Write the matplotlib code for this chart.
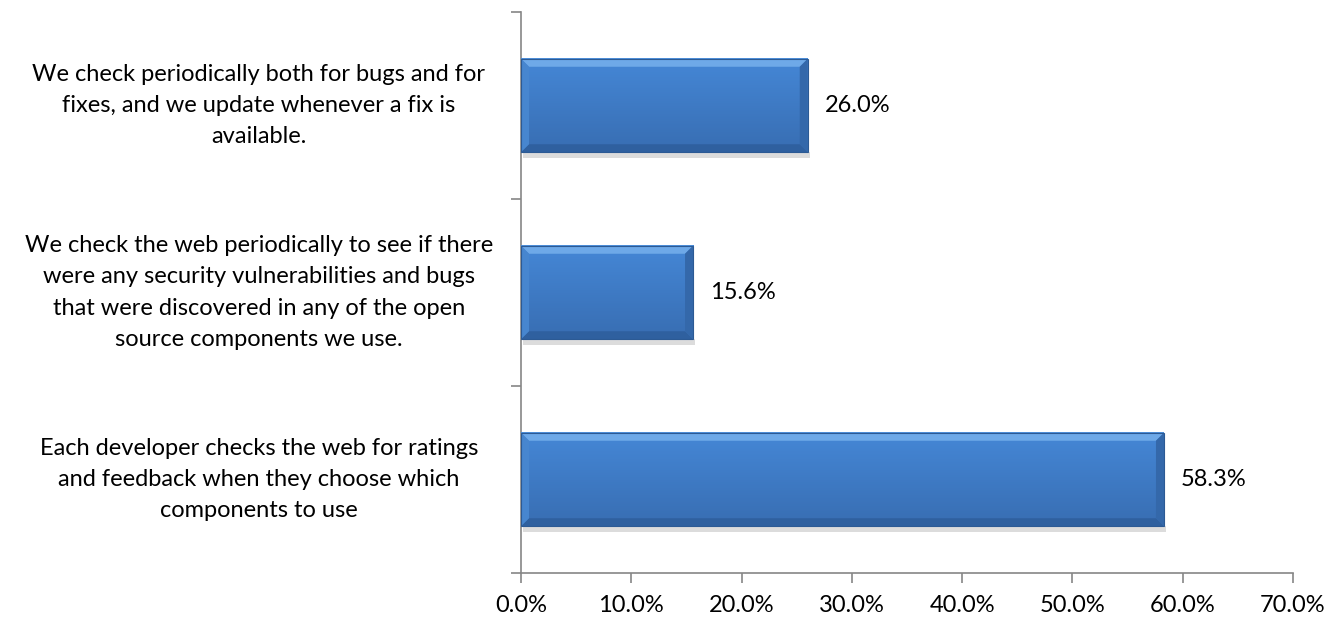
import numpy as np
import matplotlib
matplotlib.use("Agg")
import matplotlib.pyplot as plt
from matplotlib.patches import Polygon, Rectangle

## 데이터 (아래에서 위 순서)
categories = [
    "Each developer checks the web for ratings\nand feedback when they choose which\ncomponents to use",
    "We check the web periodically to see if there\nwere any security vulnerabilities and bugs\nthat were discovered in any of the open\nsource components we use.",
    "We check periodically both for bugs and for\nfixes, and we update whenever a fix is\navailable.",
]
values = [58.3, 15.6, 26.0]
x_ticks = [0, 10, 20, 30, 40, 50, 60, 70]

plt.rcParams['font.family'] = ['Lato', 'DejaVu Sans']
FS = 17

fig = plt.figure(figsize=(13.39, 6.21), dpi=100)
ax = fig.add_axes([521 / 1339, 1 - 573 / 621, (1293 - 521) / 1339, (573 - 12) / 621])

ypos = np.arange(len(categories))
bar_h = 0.5
ax.barh(ypos, values, height=bar_h, color="#3d7bc8", edgecolor="none", zorder=3)

ax.set_xlim(0, 70)
ax.set_ylim(-0.5, len(categories) - 0.5)

## 픽셀 -> 데이터 단위 변환
px_x = 70 / (1293 - 521)
px_y = 3 / (573 - 12)
bev_x = 8 * px_x
bev_y = 8 * px_y

for y, v in zip(ypos, values):
    y0, y1 = y - bar_h / 2, y + bar_h / 2
    ## 그림자
    ax.add_patch(Rectangle((2 * px_x, y0 - 6 * px_y), v, 6 * px_y,
                           facecolor="#dcdcdc", edgecolor="none", zorder=2))
    ## 세로 그라데이션
    grad = np.linspace(0, 1, 64).reshape(-1, 1)
    top_c = np.array([0.27, 0.53, 0.84])
    bot_c = np.array([0.22, 0.43, 0.70])
    img = top_c * grad + bot_c * (1 - grad)
    ax.imshow(img.reshape(64, 1, 3), extent=(0, v, y0, y1), aspect="auto",
              origin="lower", zorder=3.1)
    ## 베벨: 위 (밝게), 아래 (어둡게), 오른쪽, 왼쪽
    ax.add_patch(Polygon([(0, y1), (v, y1), (v - bev_x, y1 - bev_y), (bev_x, y1 - bev_y)],
                         closed=True, facecolor="#6ea9e8", edgecolor="none", zorder=3.2))
    ax.add_patch(Polygon([(0, y0), (v, y0), (v - bev_x, y0 + bev_y), (bev_x, y0 + bev_y)],
                         closed=True, facecolor="#2f609f", edgecolor="none", zorder=3.2))
    ax.add_patch(Polygon([(v, y0), (v, y1), (v - bev_x, y1 - bev_y), (v - bev_x, y0 + bev_y)],
                         closed=True, facecolor="#3468aa", edgecolor="none", zorder=3.2))
    ax.add_patch(Polygon([(0, y0), (0, y1), (bev_x, y1 - bev_y), (bev_x, y0 + bev_y)],
                         closed=True, facecolor="#4786cf", edgecolor="none", zorder=3.2))
    ax.add_patch(Rectangle((0, y0), v, bar_h, facecolor="none", edgecolor="#2c5a94",
                           linewidth=0.8, zorder=3.3))
    ## 값 라벨
    ax.text(v + 17 * px_x, y, f"{v:.1f}%", va="center", ha="left", fontsize=FS, color="black")

## 축 스타일
for s in ["top", "right"]:
    ax.spines[s].set_visible(False)
ax.spines["left"].set_color("#868686")
ax.spines["bottom"].set_color("#868686")
ax.spines["left"].set_linewidth(1.2)
ax.spines["bottom"].set_linewidth(1.2)

ax.set_xticks(x_ticks)
ax.set_xticklabels([f"{t:.1f}%" for t in x_ticks], fontsize=FS)
ax.tick_params(axis="x", length=7, width=1.2, color="#868686", pad=9)

ax.set_yticks(np.arange(-0.5, len(categories), 1.0))
ax.set_yticklabels([])
ax.tick_params(axis="y", length=7, width=1.2, color="#868686")

## 카테고리 라벨 (가운데 정렬)
for y, lab in zip(ypos, categories):
    ax.text(-(521 - 259) * px_x, y, lab, ha="center", va="center", fontsize=FS,
            linespacing=1.6, clip_on=False)

fig.savefig("out.png", dpi=100)
